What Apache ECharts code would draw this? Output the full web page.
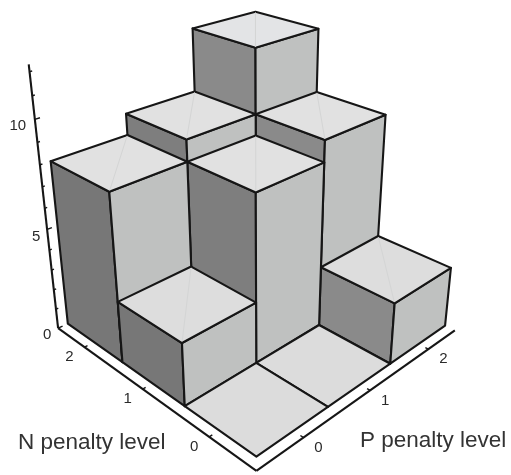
<!DOCTYPE html>
<html>
<head>
<meta charset="utf-8">
<style>
  html, body { margin: 0; padding: 0; background: #fff; }
  #chart { width: 511px; height: 475px; filter: blur(0.35px); }
</style>
<script src="https://cdn.jsdelivr.net/npm/echarts@6/dist/echarts.min.js"></script>
</head>
<body>
<div id="chart"></div>
<script>
// one row per N level, one column per P level
var nLevels = ["0", "1", "2"];
var pLevels = ["0", "1", "2"];
var heightsN0 = [0, 0, 3];
var heightsN1 = [3, 8, 9];
var heightsN2 = [8, 9, 12];
var zTicks = [0, 1, 2, 3, 4, 5, 6, 7, 8, 9, 10, 11, 12];
var zLabels = [0, 5, 10];
var zMax = 12.3;

// perspective camera, least squares fit on corners
var cam = [95.85554, -57.7613, -3.261308, 256.3762,
           -19.5411, -20.04659, -26.88865, 456.6516,
           0.07404761, 0.07513717, -0.01249295];
var axisGap = 0.13;
var font = '"Liberation Sans", Arial, sans-serif';

function project(x, y, z) {
  var w = cam[8] * x + cam[9] * y + cam[10] * z + 1;
  return [
    (cam[0] * x + cam[1] * y + cam[2] * z + cam[3]) / w,
    (cam[4] * x + cam[5] * y + cam[6] * z + cam[7]) / w
  ];
}

var bars = [];
[heightsN0, heightsN1, heightsN2].forEach(function (row, n) {
  row.forEach(function (v, p) {
    bars.push([p, n, v]);
  });
});
// painter's order, far cells first
bars.sort(function (a, b) { return (b[0] + b[1]) - (a[0] + a[1]); });

var leftFill = ["#777777", "#7e7e7e", "#8a8a8a"];
var rightFill = "#bfc1c0";
var edge = "#161616";

function topFill(z) {
  if (z == 0) return "#dcdcdc";
  return z > 10 ? "#e3e4e6" : z > 7 ? "#e1e1e1" : "#dddddd";
}

function renderBar(params, api) {
  var x = api.value(0), y = api.value(1), z = api.value(2);
  function pt(a, b, c) { return api.coord(project(a, b, c)); }
  function face(points, fill) {
    return {
      type: "polygon",
      shape: { points: points },
      style: { fill: fill, stroke: edge, lineWidth: 2.1, lineJoin: "round" }
    };
  }
  var kids = [];
  if (z > 0) {
    kids.push(face([pt(x, y, 0), pt(x, y + 1, 0), pt(x, y + 1, z), pt(x, y, z)], leftFill[x]));
    kids.push(face([pt(x, y, 0), pt(x + 1, y, 0), pt(x + 1, y, z), pt(x, y, z)], rightFill));
  }
  kids.push(face([pt(x, y, z), pt(x + 1, y, z), pt(x + 1, y + 1, z), pt(x, y + 1, z)], topFill(z)));
  if (z > 0) {
    var a = pt(x + 0.02, y + 0.02, z), b = pt(x + 0.98, y + 0.98, z);
    kids.push({
      type: "line",
      shape: { x1: a[0], y1: a[1], x2: b[0], y2: b[1] },
      style: { stroke: "#d4d5d5", lineWidth: 1 }
    });
  }
  return { type: "group", children: kids };
}

function renderAxes(params, api) {
  function pt(a, b, c) { return api.coord(project(a, b, c)); }
  function seg(a, b, w) {
    return {
      type: "line",
      shape: { x1: a[0], y1: a[1], x2: b[0], y2: b[1] },
      style: { stroke: edge, lineWidth: w }
    };
  }
  function label(txt, p, dx, dy) {
    return {
      type: "text",
      x: p[0] + dx,
      y: p[1] + dy,
      style: { text: txt, font: "15px " + font, fill: "#2a2a2a", align: "center", verticalAlign: "middle" }
    };
  }
  var g = -axisGap;
  var kids = [];
  kids.push(seg(pt(g, 3, 0), pt(g, g, 0), 2.1));
  kids.push(seg(pt(g, g, 0), pt(3, g, 0), 2.1));
  kids.push(seg(pt(g, 3, 0), pt(g, 3, zMax), 2.1));
  zTicks.forEach(function (v) {
    var major = zLabels.indexOf(v) >= 0;
    kids.push(seg(pt(g, 3, v), pt(g + (major ? 0.06 : 0.03), 3, v), 1.4));
  });
  zLabels.forEach(function (v) {
    kids.push(label(String(v), pt(g, 3, v), v == 10 ? -17 : -11, 7));
  });
  nLevels.forEach(function (txt, i) {
    var p = pt(g, i + 0.5, 0);
    kids.push(seg(p, pt(g + 0.04, i + 0.5, 0), 1.4));
    kids.push(label(txt, p, -15, 10));
  });
  pLevels.forEach(function (txt, i) {
    var p = pt(i + 0.5, g, 0);
    kids.push(seg(p, pt(i + 0.5, g + 0.04, 0), 1.4));
    kids.push(label(txt, p, 15, 10));
  });
  return { type: "group", children: kids };
}

var chart = echarts.init(document.getElementById("chart"), null, { renderer: "canvas" });
chart.setOption({
  animation: false,
  grid: { left: 0, right: 0, top: 0, bottom: 0 },
  // hidden plane the camera projects onto
  xAxis: { type: "value", show: false, min: 0, max: 511 },
  yAxis: { type: "value", show: false, min: 0, max: 475, inverse: true },
  graphic: [
    { type: "text", left: 18, top: 431, style: { text: "N penalty level", font: "22.5px " + font, fill: "#333" } },
    { type: "text", left: 360, top: 429, style: { text: "P penalty level", font: "22.5px " + font, fill: "#333" } }
  ],
  series: [
    { type: "custom", silent: true, clip: false, data: [[0]], renderItem: renderAxes },
    { type: "custom", silent: true, clip: false, data: bars, renderItem: renderBar }
  ]
});
</script>
</body>
</html>
